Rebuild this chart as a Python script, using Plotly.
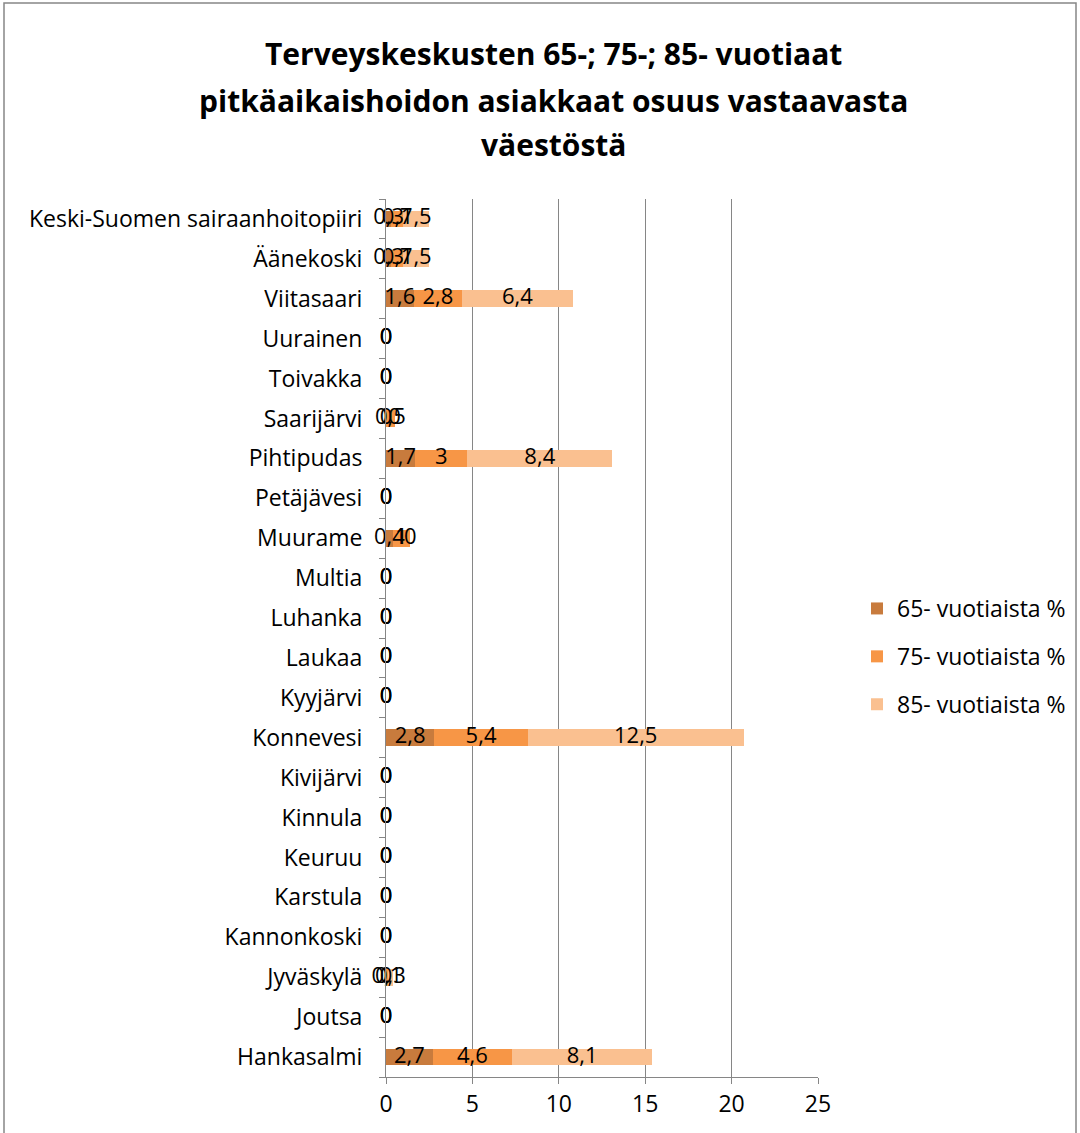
import plotly.graph_objects as go

categories = ["Hankasalmi", "Joutsa", "Jyväskylä", "Kannonkoski", "Karstula", "Keuruu",
              "Kinnula", "Kivijärvi", "Konnevesi", "Kyyjärvi", "Laukaa", "Luhanka",
              "Multia", "Muurame", "Petäjävesi", "Pihtipudas", "Saarijärvi", "Toivakka",
              "Uurainen", "Viitasaari", "Äänekoski", "Keski-Suomen sairaanhoitopiiri"]
v65 = [2.7, 0, 0, 0, 0, 0, 0, 0, 2.8, 0, 0, 0, 0, 0.4, 0, 1.7, 0, 0, 0, 1.6, 0.3, 0.3]
v75 = [4.6, 0, 0.1, 0, 0, 0, 0, 0, 5.4, 0, 0, 0, 0, 1.0, 0, 3.0, 0.5, 0, 0, 2.8, 0.7, 0.7]
v85 = [8.1, 0, 0.3, 0, 0, 0, 0, 0, 12.5, 0, 0, 0, 0, 0, 0, 8.4, 0, 0, 0, 6.4, 1.5, 1.5]
series_names = ["65- vuotiaista %", "75- vuotiaista %", "85- vuotiaista %"]
series_colors = ["#C87B3D", "#F79646", "#FAC090"]
x_ticks = [0, 5, 10, 15, 20, 25]
title_lines = ["Terveyskeskusten 65-; 75-; 85- vuotiaat",
               "pitkäaikaishoidon asiakkaat osuus vastaavasta",
               "väestöstä"]

FONT = "Open Sans"
W, H = 1080, 1133
L, R, T, B = 386, 818, 199, 1077


def px_x(p):
    return (p - L) / (R - L)


def px_y(p):
    return (B - p) / (B - T)


def fmt(v):
    s = ("%g" % round(v, 2))
    return s.replace(".", ",")


fig = go.Figure()
series = [v65, v75, v85]
for name, vals, col in zip(series_names, series, series_colors):
    fig.add_trace(go.Bar(
        y=categories, x=vals, orientation="h", name=name,
        marker=dict(color=col, line=dict(width=0)),
        legendgroup=name, hoverinfo="skip"))

# data labels at segment centres (Excel style, including zeros)
cum = [0.0] * len(categories)
for vals in series:
    xs = [c + v / 2 for c, v in zip(cum, vals)]
    fig.add_trace(go.Scatter(
        y=categories, x=xs, mode="text", text=[fmt(v) for v in vals],
        textfont=dict(family=FONT, size=22, color="black"),
        textposition="middle center", showlegend=False, hoverinfo="skip",
        cliponaxis=False))
    cum = [c + v for c, v in zip(cum, vals)]

fig.update_layout(
    width=W, height=H,
    margin=dict(l=L, r=W - R, t=T, b=H - B, autoexpand=False),
    paper_bgcolor="white", plot_bgcolor="white",
    barmode="stack", bargap=0.58,
    font=dict(family=FONT, size=22, color="black"),
    showlegend=True,
    legend=dict(x=px_x(857), y=px_y(587), xanchor="left", yanchor="top",
                traceorder="grouped", tracegroupgap=15,
                font=dict(family=FONT, size=23, color="black"),
                itemwidth=30, bgcolor="rgba(0,0,0,0)"),
    xaxis=dict(range=[0, 25], tickvals=x_ticks, ticktext=[str(t) for t in x_ticks],
               showgrid=True, gridcolor="#868686", gridwidth=1,
               showline=True, linecolor="#868686", linewidth=1,
               ticks="outside", ticklen=6, tickcolor="#868686",
               tickfont=dict(family=FONT, size=23, color="black"),
               zeroline=False, fixedrange=True),
    yaxis=dict(type="category", categoryorder="array", categoryarray=categories,
               range=[-0.5, len(categories) - 0.5],
               showline=True, linecolor="#868686", linewidth=1,
               ticks="outside", ticklen=6, tickcolor="#868686", tickson="boundaries",
               tickfont=dict(family=FONT, size=23, color="black"),
               ticklabelstandoff=18, showgrid=False, fixedrange=True),
)

title_y = [53, 100, 145]
for line, yy in zip(title_lines, title_y):
    fig.add_annotation(text="<b>" + line + "</b>", x=px_x(553), y=px_y(yy),
                       xref="paper", yref="paper", xanchor="center", yanchor="middle",
                       showarrow=False, font=dict(family=FONT, size=30, color="black"))

# outer chart border
fig.add_shape(type="rect", xref="paper", yref="paper",
              x0=px_x(4), x1=px_x(1076), y0=px_y(1140), y1=px_y(3),
              line=dict(color="#868686", width=1.5), fillcolor="rgba(0,0,0,0)", layer="below")

fig.write_html("out.html", config={"displayModeBar": False},
               post_script="document.body.style.margin='0';")
